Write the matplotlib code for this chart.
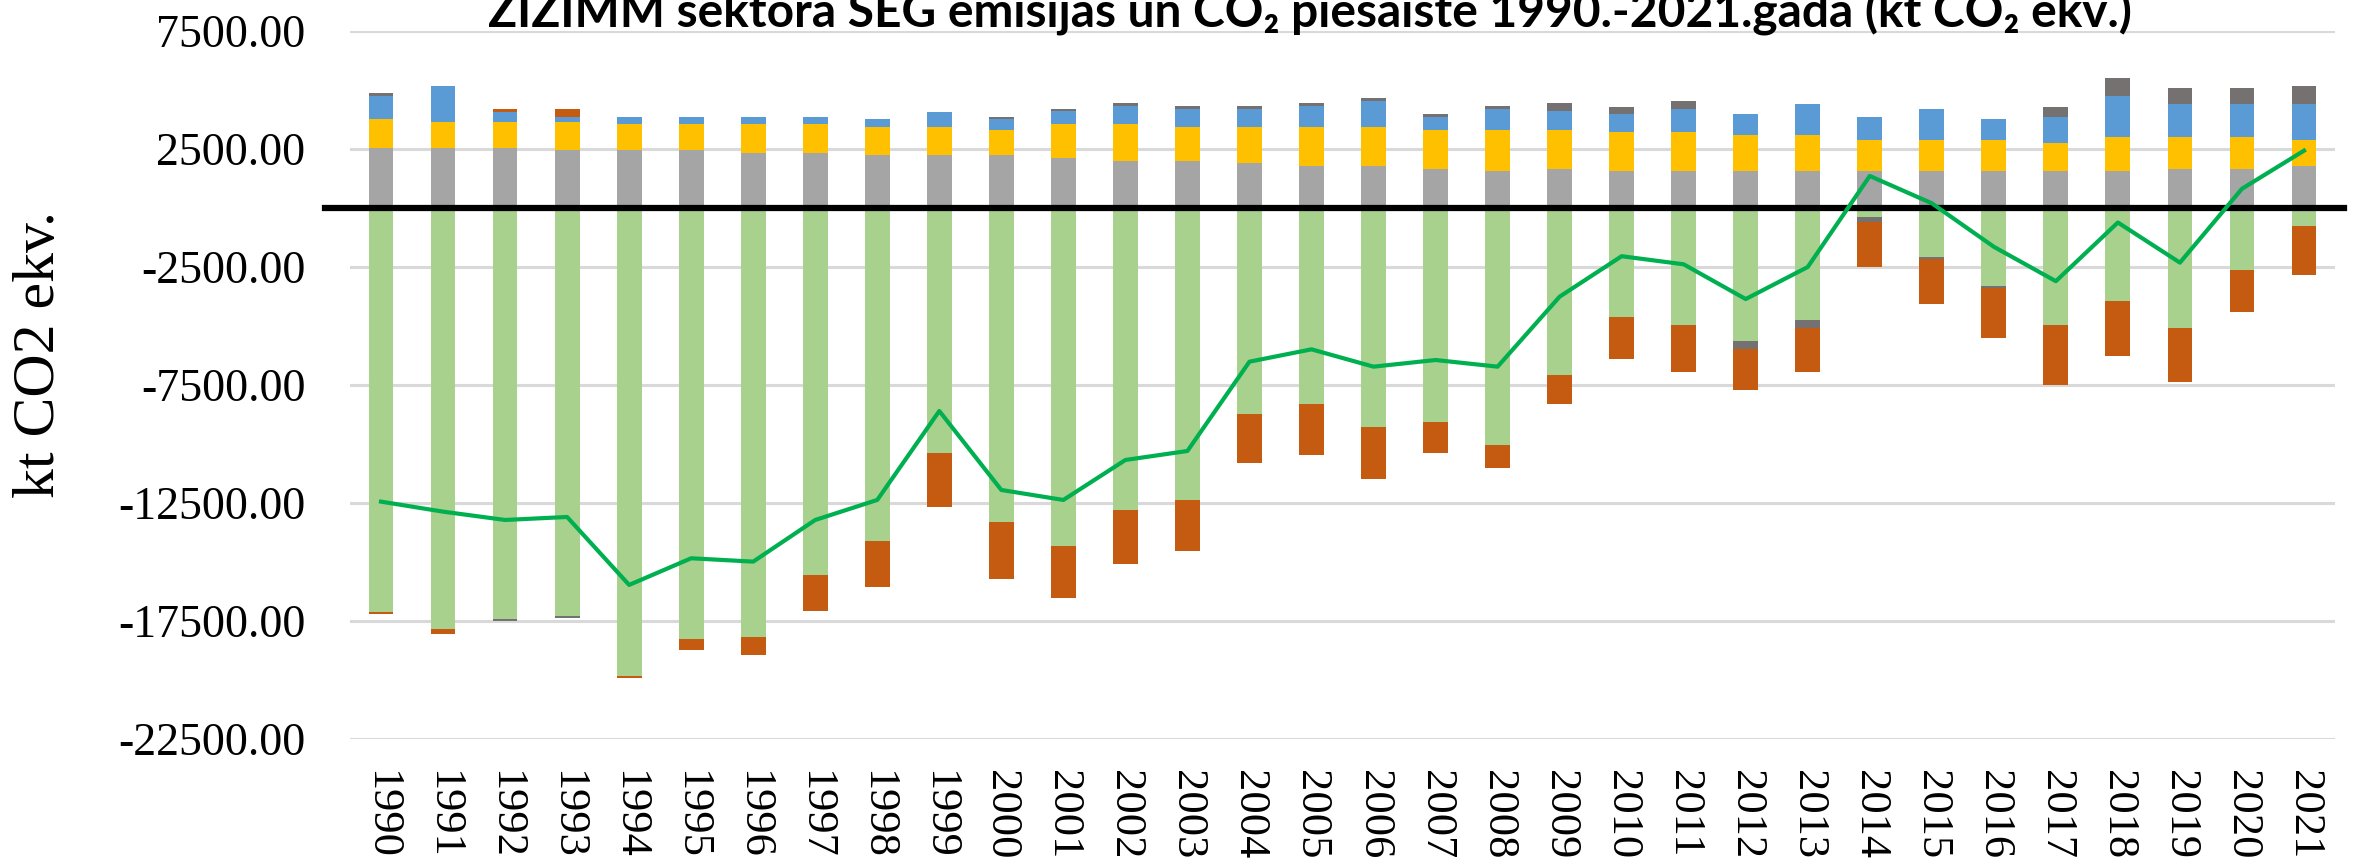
import numpy as np
import matplotlib
matplotlib.use("Agg")
import matplotlib.pyplot as plt
from matplotlib.transforms import blended_transform_factory

years = [str(y) for y in range(1990, 2022)]

# kt CO2 ekv.
gray = [2563, 2563, 2563, 2450, 2450, 2450, 2337, 2337, 2225, 2225, 2225, 2112,
        1999, 1999, 1887, 1774, 1774, 1661, 1549, 1661, 1563, 1563, 1563, 1563,
        1563, 1563, 1563, 1563, 1563, 1661, 1661, 1788]
yellow = [1211, 1098, 1098, 1211, 1098, 1098, 1211, 1211, 1211, 1211, 1098, 1436,
          1549, 1437, 1549, 1662, 1662, 1662, 1774, 1662, 1647, 1647, 1549, 1549,
          1323, 1323, 1323, 1211, 1436, 1338, 1338, 1098]
blue = [971, 1520, 422, 211, 324, 324, 324, 324, 338, 647, 451, 563,
        775, 774, 774, 887, 1098, 549, 887, 774, 775, 986, 859, 1295,
        986, 1310, 873, 1098, 1746, 1422, 1422, 1535]
green = [-17102, -17850, -17426, -17285, -19827, -18274, -18161, -15548, -14094,
         -10366, -13317, -14320, -12795, -12357, -8728, -8291, -9279, -9053,
         -10042, -7076, -4616, -4959, -5616, -4744, -400, -2072, -3287, -4959,
         -3958, -5073, -2615, -743]
darkgray = [113, 0, -71, -99, 0, 0, 0, 0, 0, 0, 98, 99,
            112, 113, 113, 112, 112, 113, 113, 338, 309, 338, -343, -329,
            -214, -100, -100, 422, 760, 648, 648, 760]
orange = [-84, -198, 127, 338, -99, -451, -776, -1511, -1963, -2302, -2415, -2189,
          -2287, -2161, -2090, -2188, -2189, -1313, -988, -1215, -1772, -1972, -1772, -1858,
          -1886, -1886, -2115, -2543, -2315, -2315, -1786, -2086]
net = [-12442, -12866, -13219, -13092, -15972, -14842, -14984, -13219, -12371, -8601,
       -11948, -12371, -10677, -10296, -6512, -5989, -6723, -6441, -6723, -3758,
       -2043, -2386, -3858, -2500, 1357, 200, -1643, -3101, -614, -2315, 815, 2429]

series = [gray, yellow, blue, green, darkgray, orange]
colors = ["#A5A5A5", "#FFC000", "#5B9BD5", "#A9D18E", "#767171", "#C55A11"]

serif = ["Liberation Serif", "DejaVu Serif"]

fig = plt.figure(figsize=(23.62, 8.68), dpi=100)
W, H = 2362, 868
ax = fig.add_axes([350 / W, 1 - 739 / H, (2335 - 350) / W, (739 - 31) / H])

x = np.arange(len(years))
pos_base = np.zeros(len(years))
neg_base = np.zeros(len(years))
for vals, c in zip(series, colors):
    v = np.array(vals, dtype=float)
    p = np.where(v > 0, v, 0)
    n = np.where(v < 0, v, 0)
    ax.bar(x, p, 0.4, bottom=pos_base, color=c, zorder=2)
    ax.bar(x, n, 0.4, bottom=neg_base, color=c, zorder=2)
    pos_base += p
    neg_base += n

ax.plot(x, net, color="#00B050", lw=3, zorder=4)

# thick zero axis line, a bit wider than the plot area
tr = blended_transform_factory(ax.transAxes, ax.transData)
ax.plot([-0.0125, 1.0045], [0, 0], color="black", lw=4.5, transform=tr,
        clip_on=False, zorder=3)

ax.set_xlim(-0.5, len(years) - 0.5)
ax.set_ylim(-22500, 7500)
ax.set_yticks(np.arange(-22500, 7501, 5000))
ax.set_yticklabels([f"{t:.2f}" for t in np.arange(-22500, 7501, 5000)],
                   fontsize=33, family=serif)
ax.set_xticks(x)
ax.set_xticklabels(years, rotation=270, fontsize=32, family=serif)
ax.tick_params(axis="y", length=0, pad=32)
ax.tick_params(axis="x", length=0, pad=22)
ax.grid(axis="y", color="#D9D9D9", lw=2.2, zorder=0)
ax.set_axisbelow(True)
for s in ax.spines.values():
    s.set_visible(False)

fig.text(40 / W, 1 - 354 / H, "kt CO2 ekv.", rotation=90, fontsize=43,
         family=serif, ha="center", va="center")
fig.text(1310 / W, 1 - 27 / H,
         "ZIZIMM sektora SEG emisijas un CO\u2082 piesaiste 1990.-2021.gada (kt CO\u2082 ekv.)",
         fontsize=34.5, fontweight="bold", family=["Lato", "DejaVu Sans"],
         ha="center", va="baseline")

fig.savefig("out.png", dpi=100)
